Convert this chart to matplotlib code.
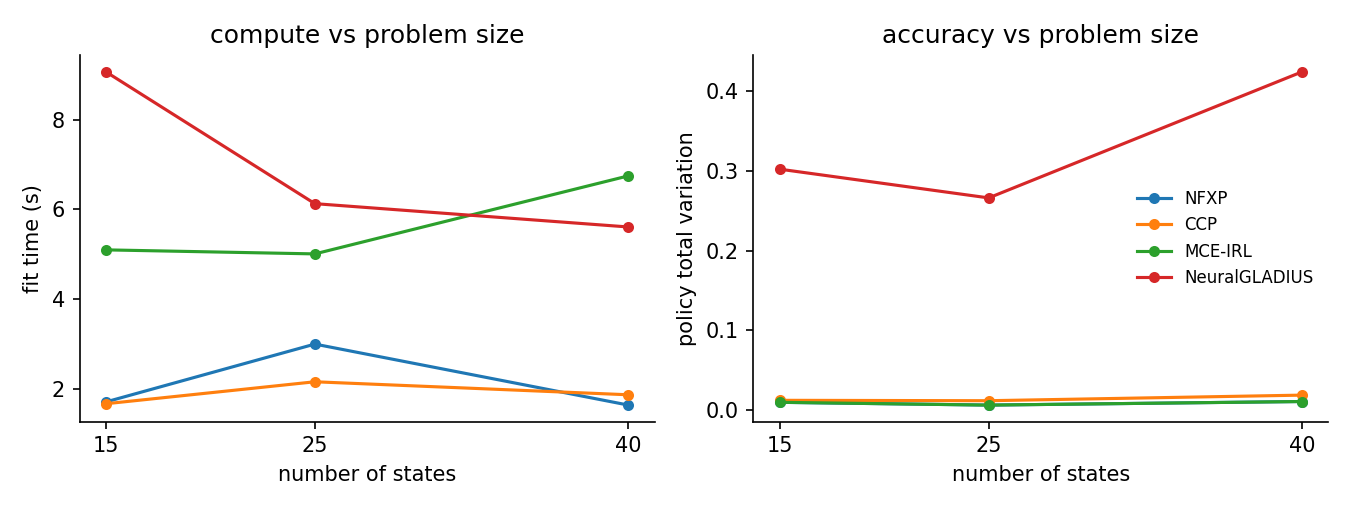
import matplotlib
matplotlib.use("Agg")
import matplotlib.pyplot as plt

states = [15, 25, 40]
methods = ["NFXP", "CCP", "MCE-IRL", "NeuralGLADIUS"]

fit_time = {
    "NFXP": [1.71, 3.00, 1.64],
    "CCP": [1.67, 2.16, 1.87],
    "MCE-IRL": [5.10, 5.01, 6.75],
    "NeuralGLADIUS": [9.07, 6.13, 5.61],
}
policy_tv = {
    "NFXP": [0.010, 0.0065, 0.011],
    "CCP": [0.0125, 0.012, 0.019],
    "MCE-IRL": [0.010, 0.0065, 0.011],
    "NeuralGLADIUS": [0.302, 0.266, 0.424],
}

fig, (ax1, ax2) = plt.subplots(1, 2, figsize=(9, 3.4), dpi=150)

for m in methods:
    ax1.plot(states, fit_time[m], "o-", markersize=4.3, linewidth=1.5, label=m)
    ax2.plot(states, policy_tv[m], "o-", markersize=4.3, linewidth=1.5, label=m)

ax1.set_title("compute vs problem size")
ax1.set_xlabel("number of states")
ax1.set_ylabel("fit time (s)")
ax1.set_yticks([2, 4, 6, 8])

ax2.set_title("accuracy vs problem size")
ax2.set_xlabel("number of states")
ax2.set_ylabel("policy total variation")
ax2.legend(loc="center right", fontsize=8, frameon=False)

for ax in (ax1, ax2):
    ax.set_xticks(states)
    ax.spines["top"].set_visible(False)
    ax.spines["right"].set_visible(False)

plt.subplots_adjust(left=0.059, right=0.984, top=0.892, bottom=0.173, wspace=0.172)
plt.savefig("out.png")
plt.close()
